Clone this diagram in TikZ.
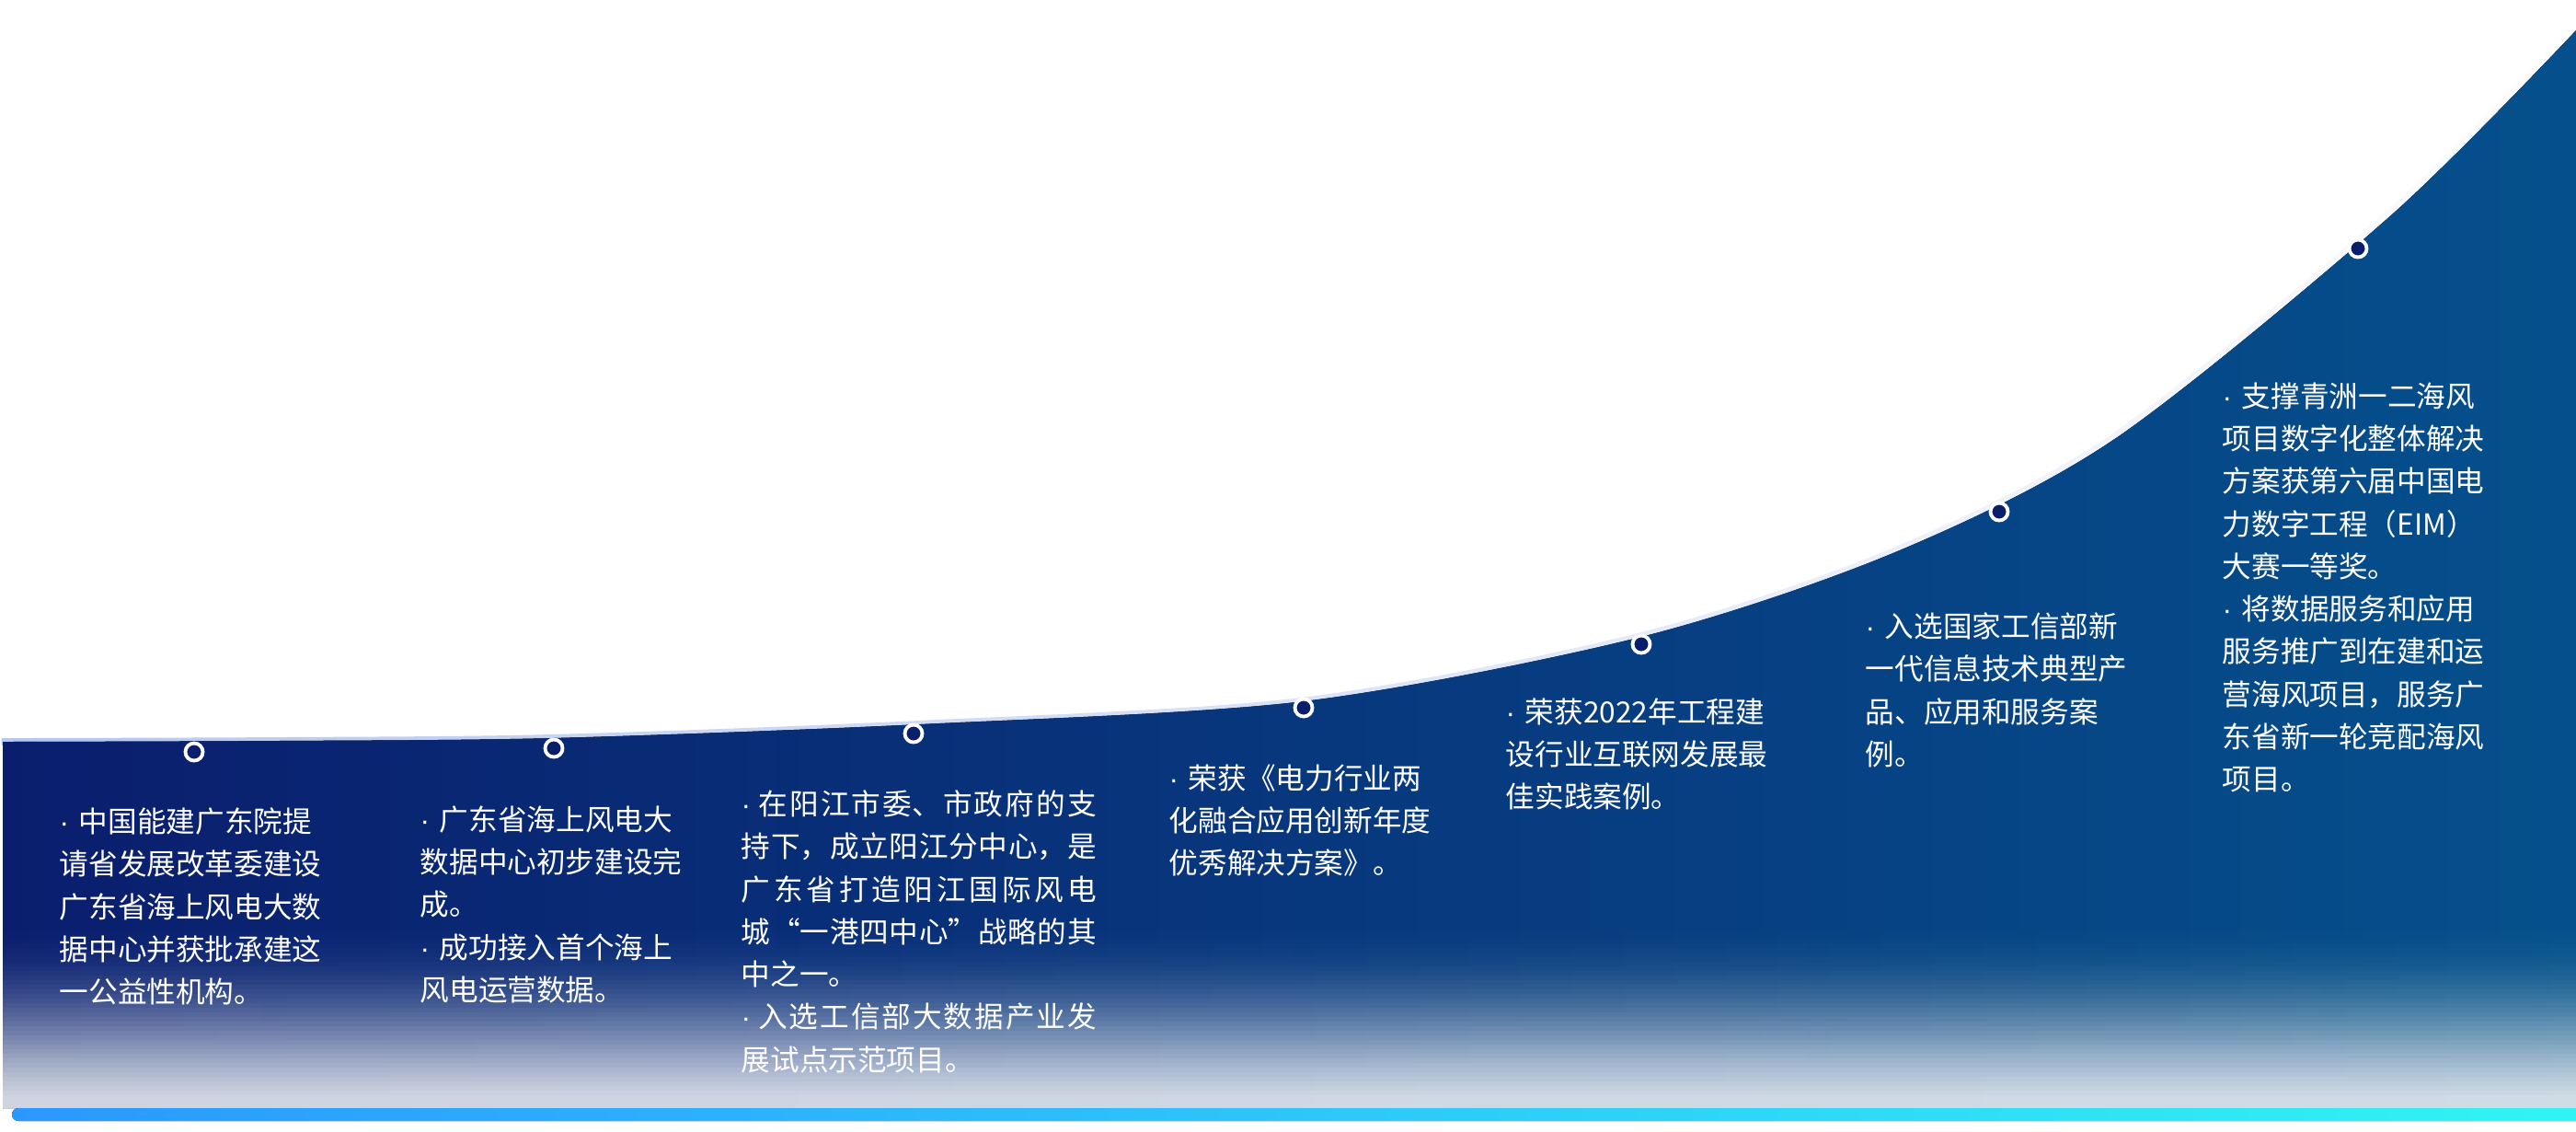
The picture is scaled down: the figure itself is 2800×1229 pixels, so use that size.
\documentclass[tikz,border=0pt]{standalone}
\usepackage{fontspec}
\newfontfamily\cjk{Noto Sans CJK SC}
\newfontfamily\latin{Liberation Sans}
\usetikzlibrary{fadings}
\definecolor{navyleft}{RGB}{10,30,110}
\definecolor{blueright}{RGB}{5,80,140}
\definecolor{dotfill}{RGB}{10,30,108}
\definecolor{barleft}{RGB}{43,152,255}
\definecolor{barright}{RGB}{48,245,243}
\definecolor{rimglow}{RGB}{150,175,235}
\newcommand\zhjust{\XeTeXlinebreaklocale "zh"\XeTeXlinebreakskip=0pt plus 2pt\relax}
\newcommand\bul{{\latin ·}\ }
\setlength\parindent{0pt}
\tikzset{
      milestone/.style={
        circle,
        draw=white,
        line width=0.038cm,
        fill=dotfill,
        minimum size=0.19cm,
        inner sep=0pt
      },
      eventtext/.style={
        text=white,
        anchor=north west,
        inner sep=0pt,
        text width=3.1cm,
        align=left,
        font=\cjk\fontsize{9pt}{13.15pt}\selectfont
      },
      eventwide/.style={
        eventtext,
        text width=3.86cm,
        align=justify,
        font=\cjk\fontsize{9pt}{13.15pt}\selectfont\zhjust
      }
    }
\begin{document}
\begin{tikzpicture}[x=0.01cm,y=-0.01cm]
    \useasboundingbox (0,0) rectangle (2800,1229);
    \fill[white] (0,0) rectangle (2800,1229);
    \draw[rimglow, line width=0.08cm, opacity=0.7, path fading=east] plot[smooth] coordinates {(3,806) (300,805) (600,802) (1000,787) (1417,762) (1784,692) (2060,600) (2300,476) (2600,233) (2800,33)};
    \fill[left color=navyleft, right color=blueright] (3,1204) -- plot[smooth] coordinates {(3,806) (300,805) (600,802) (1000,787) (1417,762) (1784,692) (2060,600) (2300,476) (2600,233) (2800,33)} -- (2800,1204) -- cycle;
    \foreach \i [evaluate=\i as \op using 0.0000515*\i*\i] in {1,...,48}
      \fill[white, opacity=\op] (3,{950+5*\i}) rectangle (2800,1204);
    \fill[left color=barleft, right color=barright, rounded corners=0.07cm] (13,1204) rectangle (2820,1218);
    \node[milestone] (d1) at (211,817) {};
    \node[milestone] (d2) at (602,813) {};
    \node[milestone] (d3) at (993,797) {};
    \node[milestone] (d4) at (1417,769) {};
    \node[milestone] (d5) at (1784,700) {};
    \node[milestone] (d6) at (2173,556) {};
    \node[milestone] (d7) at (2563,270) {};
    \node[eventtext] (t1) at (64,877) {\bul 中国能建广东院提\\请省发展改革委建设\\广东省海上风电大数\\据中心并获批承建这\\一公益性机构。};
    \node[eventtext] (t2) at (456,875) {\bul 广东省海上风电大\\数据中心初步建设完\\成。\\\bul 成功接入首个海上\\风电运营数据。};
    \node[eventwide] (t3) at (805,858) {\bul 在阳江市委、市政府的支\linebreak 持下，成立阳江分中心，是\linebreak 广东省打造阳江国际风电\linebreak 城“一港四中心”战略的其\linebreak 中之一。\par\bul 入选工信部大数据产业发\linebreak 展试点示范项目。};
    \node[eventtext] (t4) at (1270,830) {\bul 荣获《电力行业两\\化融合应用创新年度\\优秀解决方案》。};
    \node[eventtext] (t5) at (1636,758) {\bul 荣获2022年工程建\\设行业互联网发展最\\佳实践案例。};
    \node[eventtext] (t6) at (2027,665) {\bul 入选国家工信部新\\一代信息技术典型产\\品、应用和服务案\\例。};
    \node[eventtext] (t7) at (2415,415) {\bul 支撑青洲一二海风\\项目数字化整体解决\\方案获第六届中国电\\力数字工程（EIM）\\大赛一等奖。\\\bul 将数据服务和应用\\服务推广到在建和运\\营海风项目，服务广\\东省新一轮竞配海风\\项目。};
\end{tikzpicture}
\end{document}
